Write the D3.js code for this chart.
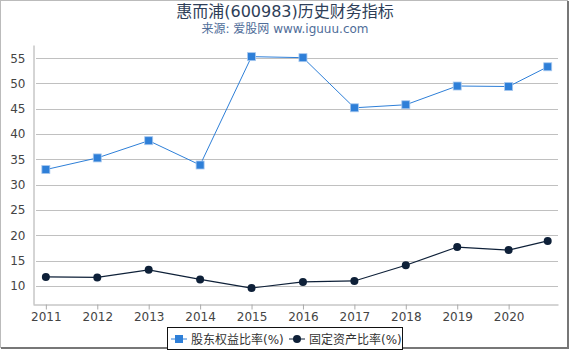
<!DOCTYPE html>
<html>
<head>
<meta charset="utf-8">
<script src="https://cdn.jsdelivr.net/npm/d3@7"></script>
<style>
  body { margin: 0; background: #fff; }
  svg { display: block; font-family: "DejaVu Sans", "Noto Sans CJK SC", sans-serif; }
</style>
</head>
<body>
<svg id="chart" width="570" height="350"></svg>
<script>
// data
var years = [2011, 2012, 2013, 2014, 2015, 2016, 2017, 2018, 2019, 2020, 2020.76];
var equityRatio = [33.0, 35.3, 38.7, 33.9, 55.3, 55.1, 45.2, 45.8, 49.5, 49.4, 53.3];
var fixedRatio  = [11.8, 11.7, 13.2, 11.3, 9.6, 10.8, 11.0, 14.1, 17.7, 17.1, 18.9];
var xTicks = [2011, 2012, 2013, 2014, 2015, 2016, 2017, 2018, 2019, 2020];
var yTicks = [10, 15, 20, 25, 30, 35, 40, 45, 50, 55];
var seriesNames = ["股东权益比率(%)", "固定资产比率(%)"];

var width = 570, height = 350;
var margin = {top: 45, right: 11, bottom: 46, left: 33};
var svg = d3.select("#chart");

// frame
svg.append("rect").attr("x", 0.5).attr("y", 0.5).attr("width", width - 3).attr("height", height - 3)
  .attr("fill", "#fff").attr("stroke", "#bbb");
svg.append("path").attr("d", `M${width - 2},1V${height - 2}H1`)
  .attr("fill", "none").attr("stroke", "#777").attr("stroke-width", 2);

svg.append("text").attr("x", width / 2).attr("y", 17).attr("text-anchor", "middle")
  .attr("font-size", 16).attr("fill", "#2e3e58").text("惠而浦(600983)历史财务指标");
svg.append("text").attr("x", width / 2).attr("y", 33).attr("text-anchor", "middle")
  .attr("font-size", 12).attr("fill", "#4f6d99").text("来源: 爱股网 www.iguuu.com");

var x = d3.scaleLinear()
  .domain([2010.75, 2020.96])
  .range([margin.left, width - margin.right - 1]);
var y = d3.scaleLinear()
  .domain([6.45, 57.6])
  .range([height - margin.bottom, margin.top]);

// grid
svg.append("g").selectAll("line").data(yTicks).join("line")
  .attr("x1", margin.left + 3).attr("x2", width - margin.right - 1)
  .attr("y1", d => Math.round(y(d)) + 0.5).attr("y2", d => Math.round(y(d)) + 0.5)
  .attr("stroke", "#c0c0c0");

// y axis
var yAxis = svg.append("g")
  .attr("transform", `translate(${margin.left + 0.5},0)`)
  .call(d3.axisLeft(y).tickValues(yTicks).tickSize(0).tickPadding(8));
yAxis.select(".domain").attr("stroke", "#aaa");
yAxis.selectAll("text").attr("font-size", 12).attr("fill", "#444").attr("font-family", "DejaVu Sans");

// x axis
var xAxis = svg.append("g")
  .attr("transform", `translate(0,${height - margin.bottom + 0.5})`)
  .call(d3.axisBottom(x).tickValues(xTicks).tickFormat(d3.format("d")).tickSize(5).tickSizeOuter(0).tickPadding(3));
xAxis.select(".domain").attr("stroke", "#aaa");
xAxis.selectAll(".tick line").attr("stroke", "#aaa");
xAxis.selectAll("text").attr("font-size", 12).attr("fill", "#444").attr("font-family", "DejaVu Sans");

var line = d3.line().x((d, i) => x(years[i])).y(d => y(d));

var blue = "#2e7fd8", navy = "#0e2038";

svg.append("path").datum(equityRatio).attr("d", line)
  .attr("fill", "none").attr("stroke", blue).attr("stroke-width", 1);
svg.append("g").selectAll("rect").data(equityRatio).join("rect")
  .attr("x", (d, i) => x(years[i]) - 4).attr("y", d => y(d) - 4)
  .attr("width", 8).attr("height", 8).attr("fill", blue)
  .attr("stroke", "#a9c9ef").attr("stroke-width", 0.8);

svg.append("path").datum(fixedRatio).attr("d", line)
  .attr("fill", "none").attr("stroke", navy).attr("stroke-width", 1.2);
svg.append("g").selectAll("circle").data(fixedRatio).join("circle")
  .attr("cx", (d, i) => x(years[i])).attr("cy", d => y(d))
  .attr("r", 4).attr("fill", navy);

// legend
var lg = svg.append("g").attr("transform", "translate(167,327)");
lg.append("rect").attr("x", 0.5).attr("y", 0.5).attr("width", 235).attr("height", 22)
  .attr("fill", "#fff").attr("stroke", "#111");
var items = lg.selectAll("g").data(seriesNames).join("g")
  .attr("transform", (d, i) => `translate(${i === 0 ? 4 : 122},12)`);
items.append("line").attr("x1", 0).attr("x2", 16).attr("stroke", (d, i) => i ? navy : blue);
items.filter((d, i) => i === 0).append("rect").attr("x", 4).attr("y", -4).attr("width", 8).attr("height", 8).attr("fill", blue);
items.filter((d, i) => i === 1).append("circle").attr("cx", 8).attr("r", 4).attr("fill", navy);
items.append("text").attr("x", 20).attr("y", 4.5).attr("font-size", 12).attr("fill", "#333").text(d => d);
</script>
</body>
</html>
